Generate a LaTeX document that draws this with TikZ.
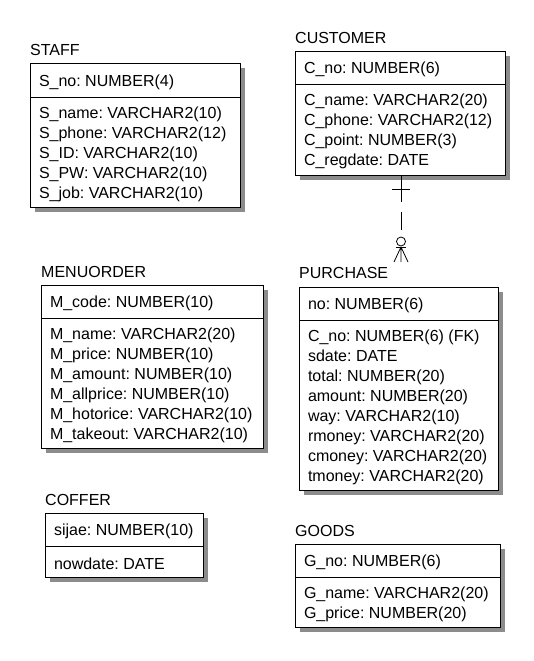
\documentclass[tikz,border=0pt]{standalone}
\usepackage{fontspec}
\setmainfont{Liberation Sans}
\usetikzlibrary{shadows}
\newcommand{\up}{\rule{0pt}{16pt}}
\begin{document}
\frenchspacing
\hyphenpenalty=10000
\exhyphenpenalty=10000
\begin{tikzpicture}[x=1pt,y=-1pt,
  ttl/.style={anchor=west, inner sep=0pt, font=\fontsize{16}{20}\selectfont},
  cmp/.style={draw, line width=0.8pt, fill=white, anchor=north west,
    inner xsep=9pt, inner ysep=0pt, outer sep=0pt, align=flush left,
    font=\fontsize{16}{20}\selectfont,
    drop shadow={shadow xshift=5pt, shadow yshift=-5pt, fill=black!45, opacity=1}},
  rel/.style={line width=0.8pt}
]
\useasboundingbox (0,0) rectangle (533,661);

% STAFF
\node[ttl] (staffT) at (30,50) {STAFF};
\node[cmp, text width=192pt, minimum height=34pt] (staffK) at (30,63) {\up S\_no: NUMBER(4)};
\node[cmp, text width=192pt, minimum height=110pt] (staffA) at (staffK.south west)
  {\up S\_name: VARCHAR2(10)\\S\_phone: VARCHAR2(12)\\S\_ID: VARCHAR2(10)\\S\_PW: VARCHAR2(10)\\S\_job: VARCHAR2(10)};

% CUSTOMER
\node[ttl] (custT) at (295,38) {CUSTOMER};
\node[cmp, text width=192pt, minimum height=33pt] (custK) at (295,51) {\up C\_no: NUMBER(6)};
\node[cmp, text width=192pt, minimum height=91pt] (custA) at (custK.south west)
  {\up C\_name: VARCHAR2(20)\\C\_phone: VARCHAR2(12)\\C\_point: NUMBER(3)\\C\_regdate: DATE};

% MENUORDER
\node[ttl] (menuT) at (41,272) {MENUORDER};
\node[cmp, text width=204pt, minimum height=33pt] (menuK) at (41,285) {\up M\_code: NUMBER(10)};
\node[cmp, text width=204pt, minimum height=130pt] (menuA) at (menuK.south west)
  {\up M\_name: VARCHAR2(20)\\M\_price: NUMBER(10)\\M\_amount: NUMBER(10)\\M\_allprice: NUMBER(10)\\M\_hotorice: VARCHAR2(10)\\M\_takeout: VARCHAR2(10)};

% PURCHASE
\node[ttl] (purT) at (299,273) {PURCHASE};
\node[cmp, text width=181pt, minimum height=33pt] (purK) at (299,287) {\up no: NUMBER(6)};
\node[cmp, text width=181pt, minimum height=170pt] (purA) at (purK.south west)
  {\up C\_no: NUMBER(6) (FK)\\sdate: DATE\\total: NUMBER(20)\\amount: NUMBER(20)\\way: VARCHAR2(10)\\rmoney: VARCHAR2(20)\\cmoney: VARCHAR2(20)\\tmoney: VARCHAR2(20)};

% COFFER
\node[ttl] (cofT) at (45,500) {COFFER};
\node[cmp, text width=140pt, minimum height=33pt] (cofK) at (45,513) {\up sijae: NUMBER(10)};
\node[cmp, text width=140pt, minimum height=31pt] (cofA) at (cofK.south west) {\up nowdate: DATE};

% GOODS
\node[ttl] (goodT) at (295,531) {GOODS};
\node[cmp, text width=187pt, minimum height=33pt] (goodK) at (295,544) {\up G\_no: NUMBER(6)};
\node[cmp, text width=187pt, minimum height=50pt] (goodA) at (goodK.south west)
  {\up G\_name: VARCHAR2(20)\\G\_price: NUMBER(20)};

% relationship CUSTOMER -- PURCHASE
\coordinate (r0) at (custA.south -| 401,0);
\coordinate (r1) at (401,237);
\coordinate (rc) at (401,241.5);
\coordinate (rj) at (401,247);
\coordinate (rf) at (401,262);
\draw[rel, dash pattern=on 27pt off 10pt on 18pt off 20pt] (r0) -- (r1);
\draw[rel] ([xshift=-9pt]r0 |- 0,189) -- ([xshift=9pt]r0 |- 0,189);
\draw[rel] (rc) circle (4.5pt);
\draw[rel] ([xshift=-5pt]rj) -- ([xshift=5pt]rj);
\draw[rel] (rj) -- ([xshift=-7pt]rf) (rj) -- (rf) (rj) -- ([xshift=7pt]rf);
\end{tikzpicture}
\end{document}
